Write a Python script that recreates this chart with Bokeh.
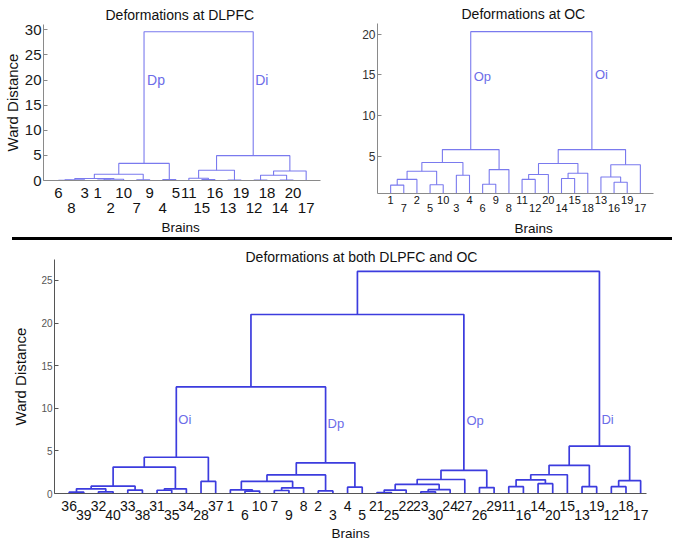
from bokeh.plotting import figure
from bokeh.models import Label, FixedTicker, Div, Title
from bokeh.layouts import row, column
from bokeh.embed import file_html
from bokeh.resources import INLINE

FONT = "Liberation Sans"

# ---------------------------------------------------------------- data
# Linkage tables in MATLAB style: leaf ids are brain numbers 1..n,
# merge k creates node n+1+k from (left[k], right[k]) at height[k].

# Deformations at DLPFC
dl_leaf_order = [6, 8, 3, 1, 2, 10, 7, 9, 4, 5, 11, 15, 16, 13, 19, 12, 18, 14, 20, 17]
dl_left = [6, 1, 21, 22, 23, 7, 25, 4, 27, 15, 11, 13, 31, 12, 14, 34, 36, 33, 29]
dl_right = [8, 2, 3, 10, 24, 9, 26, 5, 28, 16, 30, 19, 32, 18, 20, 35, 17, 37, 38]
dl_height = [0.05, 0.1, 0.15, 0.25, 0.4, 0.15, 1.25, 0.2, 3.4, 0.2, 0.45, 0.1,
             2.05, 0.1, 0.1, 1.05, 1.9, 4.95, 29.6]
dl_groups = ["Dp", "Di"]
dl_group_nodes = [29, 38]

# Deformations at OC
oc_leaf_order = [1, 7, 2, 5, 10, 3, 4, 6, 9, 8, 11, 12, 20, 14, 15, 18, 13, 16, 19, 17]
oc_left = [1, 21, 5, 22, 3, 24, 6, 27, 26, 11, 30, 14, 32, 31, 16, 13, 36, 34, 29]
oc_right = [7, 2, 10, 23, 4, 25, 9, 8, 28, 12, 20, 15, 18, 33, 19, 35, 17, 37, 38]
oc_height = [1.5, 2.2, 1.55, 3.2, 2.7, 4.27, 1.6, 3.4, 5.85, 2.2, 2.8, 2.3, 2.95,
             4.15, 1.85, 2.5, 4.0, 5.85, 20.3]
oc_groups = ["Op", "Oi"]
oc_group_nodes = [29, 38]

# Deformations at both DLPFC and OC
bt_leaf_order = [36, 39, 32, 40, 33, 38, 31, 35, 34, 28, 37, 1, 6, 10, 7, 9, 8, 2, 3, 4,
                 5, 21, 25, 22, 23, 30, 24, 27, 26, 29, 11, 16, 14, 20, 15, 13, 19, 12, 18, 17]
bt_left = [36, 32, 41, 33, 43, 31, 46, 45, 28, 48,
           6, 1, 7, 53, 52, 2, 55, 4, 57, 50,
           21, 61, 23, 63, 62, 65, 26, 66, 60,
           11, 14, 70, 72, 13, 73, 12, 76, 75, 69]
bt_right = [39, 40, 42, 38, 44, 35, 34, 47, 37, 49,
            10, 51, 9, 8, 54, 3, 56, 5, 58, 59,
            25, 22, 30, 24, 64, 27, 29, 67, 68,
            16, 20, 71, 15, 19, 74, 18, 17, 77, 78]
bt_height = [0.15, 0.2, 0.55, 0.4, 0.86, 0.38, 0.55, 3.1, 1.42, 4.25,
             0.28, 0.43, 0.35, 0.67, 1.42, 0.3, 2.18, 0.74, 3.6, 12.5,
             0.1, 0.4, 0.2, 0.45, 1.06, 1.64, 0.7, 2.72, 21.0,
             0.8, 1.15, 1.6, 2.2, 0.8, 3.3, 0.8, 1.5, 5.55, 26.05]
bt_groups = ["Oi", "Dp", "Op", "Di"]
bt_group_nodes = [50, 59, 68, 78]

# ---------------------------------------------------------------- layout (style only)
# 0 = upper row of leaf labels, 1 = lower row
dl_label_row = [0, 1, 0, 0, 1, 0, 1, 0, 1, 0, 0, 1, 0, 1, 0, 1, 0, 1, 0, 1]
oc_label_row = [0, 1] * 10
bt_label_row = [0, 1, 0, 1, 0, 1, 0, 1, 0, 1, 0,
                0, 1, 0, 0, 1, 0, 0, 1, 0, 1,
                0, 1, 0, 0, 1, 0, 0, 1, 0,
                0, 1, 0, 1, 0, 1, 0, 1, 0, 1]

TOP_LINE = "#7a7aee"
BOT_LINE = "#3c3cde"
GROUP_TXT = "#6c6ce8"


def dendrogram(order, left, right, height):
    n = len(order)
    x = {leaf: float(i + 1) for i, leaf in enumerate(order)}
    h = {leaf: 0.0 for leaf in order}
    xs, ys = [], []
    for k, (a, b, z) in enumerate(zip(left, right, height)):
        node = n + 1 + k
        xs.append([x[a], x[a], x[b], x[b]])
        ys.append([h[a], z, z, h[b]])
        x[node] = (x[a] + x[b]) / 2.0
        h[node] = z
    return xs, ys, x, h


def make_fig(w, h, borders, xr, yr, yticks, tick_size, tick_color, axis_color,
             ylabel=None, ylabel_standoff=2):
    bl, br, bt, bb = borders
    p = figure(width=w, height=h, x_range=xr, y_range=yr,
               output_backend="svg", toolbar_location=None, frame_align=False,
               min_border_left=bl, min_border_right=br,
               min_border_top=bt, min_border_bottom=bb)
    p.outline_line_color = None
    p.xgrid.visible = False
    p.ygrid.visible = False
    p.background_fill_color = "white"
    p.border_fill_color = "white"
    p.xaxis.major_tick_line_color = None
    p.xaxis.minor_tick_line_color = None
    p.xaxis.axis_line_color = axis_color
    p.yaxis.ticker = FixedTicker(ticks=yticks)
    p.yaxis.minor_tick_line_color = None
    p.yaxis.major_tick_in = 4
    p.yaxis.major_tick_out = 0
    p.yaxis.major_tick_line_color = axis_color
    p.yaxis.axis_line_color = axis_color
    p.yaxis.major_label_standoff = 2
    p.yaxis.major_label_text_font = FONT
    p.yaxis.major_label_text_font_size = tick_size
    p.yaxis.major_label_text_color = tick_color
    if ylabel:
        p.yaxis.axis_label = ylabel
        p.yaxis.axis_label_text_font = FONT
        p.yaxis.axis_label_text_font_size = "15px"
        p.yaxis.axis_label_text_font_style = "normal"
        p.yaxis.axis_label_text_color = "#111111"
        p.yaxis.axis_label_standoff = ylabel_standoff
    return p


def draw_panel(p, order, left, right, height, rows, line_color, line_width,
               leaf_size, line_height, leaf_standoff,
               groups, group_nodes, group_y, group_size, group_dx):
    xs, ys, xpos, hpos = dendrogram(order, left, right, height)
    p.multi_line(xs=xs, ys=ys, line_color=line_color, line_width=line_width)
    ticks = [i + 1 for i in range(len(order))]
    p.xaxis.ticker = FixedTicker(ticks=ticks)
    p.xaxis.major_label_overrides = {
        t: (str(leaf) if r == 0 else "\n" + str(leaf))
        for t, leaf, r in zip(ticks, order, rows)}
    p.xaxis.major_label_text_font = FONT
    p.xaxis.major_label_text_font_size = leaf_size
    p.xaxis.major_label_text_color = "#111111"
    p.xaxis.major_label_text_line_height = line_height
    p.xaxis.major_label_standoff = leaf_standoff
    p.xaxis.major_tick_in = 0
    p.xaxis.major_tick_out = 0
    for name, node, gy, dx in zip(groups, group_nodes, group_y, group_dx):
        p.add_layout(Label(x=xpos[node], y=gy, text=name, text_font=FONT,
                           text_font_size=group_size, text_color=GROUP_TXT,
                           text_align="left", text_baseline="middle", x_offset=dx))


def titles(p, title, title_offset, title_standoff, brains_offset, brains_standoff):
    p.title.text = title
    p.title.align = "left"
    p.title.offset = title_offset
    p.title.standoff = title_standoff
    p.title.text_font = FONT
    p.title.text_font_size = "14px"
    p.title.text_font_style = "normal"
    p.title.text_color = "#111111"
    p.add_layout(Title(text="Brains", align="left", offset=brains_offset,
                       standoff=brains_standoff, text_font=FONT,
                       text_font_size="13.5px", text_font_style="normal",
                       text_color="#111111"), "below")


# ---------------------------------------------------------------- DLPFC
f1 = make_fig(337, 237, (43, 17, 24, 57), (-0.15, 21.1), (0, 31.05),
              [0, 5, 10, 15, 20, 25, 30], "15px", "#1a1a1a", "#8a8a8a",
              ylabel="Ward Distance", ylabel_standoff=1)
draw_panel(f1, dl_leaf_order, dl_left, dl_right, dl_height, dl_label_row,
           TOP_LINE, 1.1, "15px", 0.89, 3,
           dl_groups, dl_group_nodes, [20.1, 20.1], "14px", [3, 2])
titles(f1, "Deformations at DLPFC", 62, 4, 118, -1)

# ---------------------------------------------------------------- OC
f2 = make_fig(337, 237, (40, 21, 23, 44), (0, 21), (0.47, 21.3),
              [5, 10, 15, 20], "12px", "#333333", "#8a8a8a")
draw_panel(f2, oc_leaf_order, oc_left, oc_right, oc_height, oc_label_row,
           TOP_LINE, 1.1, "11px", 0.7, 0,
           oc_groups, oc_group_nodes, [14.8, 15.0], "13px", [3, 3])
titles(f2, "Deformations at OC", 84, 4, 137, 4)

# ---------------------------------------------------------------- both
f3 = make_fig(674, 302, (54, 28, 19, 49), (0, 40.4), (0, 27.45),
              [0, 5, 10, 15, 20, 25], "10px", "#555555", "#555555",
              ylabel="Ward Distance", ylabel_standoff=9)
draw_panel(f3, bt_leaf_order, bt_left, bt_right, bt_height, bt_label_row,
           BOT_LINE, 1.7, "14px", 0.6, 4,
           bt_groups, bt_group_nodes, [8.7, 8.25, 8.6, 8.7], "13px", [2, 2, 2.5, 2])
titles(f3, "Deformations at both DLPFC and OC", 191, -11, 277, -5)

sep = Div(text="", width=660, height=3, margin=(0, 0, 0, 12),
          styles={"background-color": "#000000"})
top = row(f1, f2, margin=(0, 0, 0, 0))
page = column(top, sep, f3, margin=(0, 0, 0, 0))

open("out.html", "w").write(file_html(page, INLINE))
